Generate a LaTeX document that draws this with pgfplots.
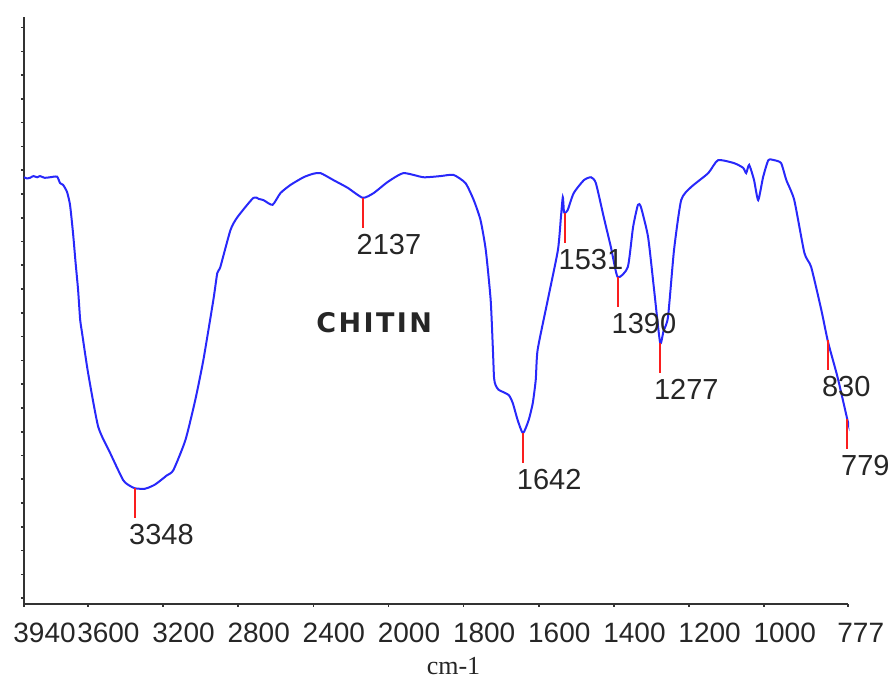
\documentclass[border=0pt]{standalone}
\usepackage{pgfplots}
\pgfplotsset{compat=1.18}
\usepackage{pgfplotstable}
\usepackage{fontspec}
\setmainfont{Liberation Sans}
\newfontfamily\seriffont{Liberation Serif}
\newfontfamily\chitfont[LetterSpace=9]{DejaVu Sans}
\definecolor{specblue}{RGB}{40,40,250}
\definecolor{peakred}{RGB}{250,30,30}
\pgfplotstableread{
w T
3940 72.7
3925 72.5
3908 72.6
3890 72.9
3870 72.7
3855 72.9
3830 72.6
3801 72.7
3764 72.8
3748 71.7
3732 71.4
3711 70.2
3695 68.0
3679 63.2
3665 58.0
3652 53.5
3641 48.4
3631 46.2
3599 39.4
3545 30.2
3481 25.7
3412 21.1
3375 20.1
3348 19.7
3300 19.6
3279 19.8
3245 20.3
3215 21.0
3180 21.9
3145 22.8
3081 27.9
3028 34.8
2985 41.6
2932 51.8
2911 56.4
2895 57.4
2841 63.7
2804 65.9
2719 69.2
2690 69.0
2665 68.8
2617 68.0
2575 70.0
2521 71.4
2452 72.7
2400 73.3
2361 73.4
2292 72.2
2217 70.9
2137 69.2
2079 70.0
2004 71.9
1960 73.4
1907 72.7
1861 72.9
1827 73.1
1795 71.7
1773 68.8
1755 65.4
1741 60.3
1728 51.8
1722 43.3
1719 38.5
1715 37.3
1707 36.5
1680 35.6
1669 34.2
1656 31.3
1642 29.1
1627 31.3
1616 34.2
1608 38.2
1603 43.3
1576 51.8
1549 60.3
1541 65.9
1536 69.3
1533 66.8
1531 66.6
1523 67.1
1507 70.0
1480 72.2
1461 72.7
1448 71.7
1427 65.9
1408 60.8
1390 55.7
1363 57.4
1349 64.2
1336 68.0
1328 67.6
1309 62.5
1293 53.5
1277 44.5
1268 46.5
1256 48.9
1240 60.3
1221 68.8
1195 71.0
1149 73.4
1123 75.6
1080 75.1
1056 74.3
1048 73.4
1040 74.8
1027 72.2
1016 68.8
1003 72.7
989 75.6
973 75.6
955 75.1
941 72.2
920 68.8
893 59.8
875 57.4
848 50.1
830 44.6
805 38.7
779 31.5
777 31.0
}\spectrum
\begin{document}
\begin{tikzpicture}
\begin{axis}[
  scale only axis,
  width=412pt, height=293.5pt,
  x coord trafo/.code={\pgfmathparse{ifthenelse(#1>2000,2000+(#1-2000)/2,#1)}},
  x dir=reverse,
  xmin=777, xmax=3940,
  ymin=0, ymax=100,
  axis x line*=bottom, axis y line*=left,
  axis line style={line width=1pt, black!80},
  xtick={3940,3600,3200,2800,2400,2000,1800,1600,1400,1200,1000,777},
  xticklabels={3940,3600,3200,2800,2400,2000,1800,1600,1400,1200,1000,777},
  ytick={1,5.05,...,99},
  yticklabels={},
  tick align=outside,
  major tick length=1.5pt,
  tick style={black!80, line width=0.8pt},
  xticklabel style={anchor=north west, inner sep=0pt, xshift=-5.5pt, yshift=-8pt, font=\fontsize{14}{16}\selectfont, text=black!85},
  /pgf/number format/assume math mode=true,
  clip=false,
]
\addplot[specblue, line width=1pt, smooth, tension=0.35] table[x=w, y=T] {\spectrum};
\foreach \w/\t/\lab in {3348/19.8/3348, 2137/69.2/2137, 1642/29.1/1642, 1531/66.6/1531, 1390/55.7/1390, 1277/44.5/1277, 830/45.0/830, 779/31.5/779}{
  \edef\tmp{\noexpand\draw[peakred, line width=1pt] (axis cs:\w,\t) -- ++(0pt,-15pt) node[anchor=north west, inner sep=0pt, xshift=-3.5pt, yshift=-2.5pt, text=black!85, font=\noexpand\fontsize{14.5}{16}\noexpand\selectfont] {\lab};}
  \tmp
}
\node[font=\chitfont\bfseries\fontsize{13.5}{15}\selectfont, text=black!85] at (axis cs:2076,48) {CHITIN};
\node[anchor=base, font=\seriffont\fontsize{13}{15}\selectfont, text=black!85] at ([yshift=-35.5pt]axis cs:1827,0) {cm-1};
\end{axis}
\pgfresetboundingbox
\path[use as bounding box] ([shift={(-12pt,-37pt)}]current axis.south west) rectangle ++(444pt,339pt);
\end{tikzpicture}
\end{document}
